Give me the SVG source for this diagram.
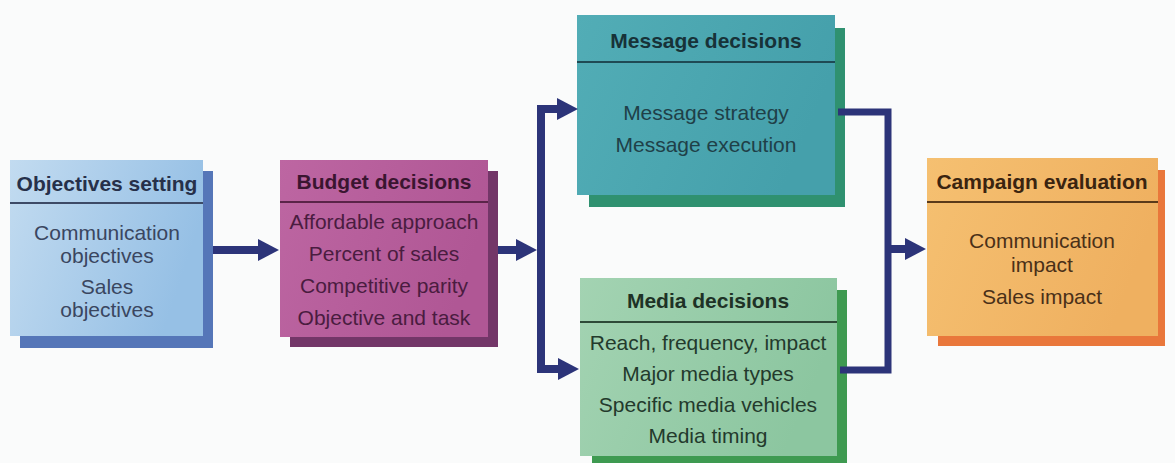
<svg xmlns="http://www.w3.org/2000/svg" width="1175" height="463" viewBox="0 0 1175 463">
  <defs>
    <linearGradient id="gObj" x1="0" y1="0" x2="1" y2="0.3">
      <stop offset="0" stop-color="#c2dbf0"/>
      <stop offset="1" stop-color="#96c0e5"/>
    </linearGradient>
    <linearGradient id="gBud" x1="0" y1="0" x2="1" y2="0.3">
      <stop offset="0" stop-color="#bd66a2"/>
      <stop offset="1" stop-color="#b05795"/>
    </linearGradient>
    <linearGradient id="gMsg" x1="0" y1="0" x2="1" y2="0.3">
      <stop offset="0" stop-color="#52adb6"/>
      <stop offset="1" stop-color="#45a0ab"/>
    </linearGradient>
    <linearGradient id="gMed" x1="0" y1="0" x2="1" y2="0.3">
      <stop offset="0" stop-color="#a3d3b2"/>
      <stop offset="1" stop-color="#8cc6a0"/>
    </linearGradient>
    <linearGradient id="gCam" x1="0" y1="0" x2="1" y2="0.3">
      <stop offset="0" stop-color="#f5c071"/>
      <stop offset="1" stop-color="#efb060"/>
    </linearGradient>
    <marker id="head" markerUnits="userSpaceOnUse" markerWidth="22" markerHeight="24" refX="0" refY="12" orient="auto">
      <path d="M0,1 L21,12 L0,23 Z" fill="#2c3479"/>
    </marker>
    <style>
      .title { font-family: "Liberation Sans", Arial, sans-serif; font-size: 21px; font-weight: bold; text-anchor: middle; }
      .item { font-family: "Liberation Sans", Arial, sans-serif; font-size: 21px; text-anchor: middle; }
      .rule { stroke-width: 2; }
      .link { fill: none; stroke: #2c3479; stroke-width: 8; stroke-linejoin: miter; stroke-linecap: butt; }
    </style>
  </defs>

  <rect width="1175" height="463" fill="#fafbfb"/>

  <!-- Objectives setting -->
  <g id="objectives">
    <rect x="20" y="171" width="193" height="177" fill="#5576b8"/>
    <rect x="10" y="160" width="193" height="176" fill="url(#gObj)"/>
    <line class="rule" x1="10" y1="203" x2="203" y2="203" stroke="#3d4a66"/>
    <text class="title" x="107" y="191" fill="#26304a">Objectives setting</text>
    <g class="item" fill="#3a4660">
      <text x="107" y="240">Communication</text>
      <text x="107" y="263">objectives</text>
      <text x="107" y="294">Sales</text>
      <text x="107" y="317">objectives</text>
    </g>
  </g>

  <!-- Budget decisions -->
  <g id="budget">
    <rect x="290" y="171" width="208" height="176" fill="#733668"/>
    <rect x="280" y="160" width="208" height="177" fill="url(#gBud)"/>
    <line class="rule" x1="280" y1="202" x2="488" y2="202" stroke="#5a2448"/>
    <text class="title" x="384" y="189" fill="#3a1530">Budget decisions</text>
    <g class="item" fill="#4a1c40">
      <text x="384" y="229">Affordable approach</text>
      <text x="384" y="261">Percent of sales</text>
      <text x="384" y="293">Competitive parity</text>
      <text x="384" y="325">Objective and task</text>
    </g>
  </g>

  <!-- Message decisions -->
  <g id="message">
    <rect x="589" y="28" width="256" height="179" fill="#2f9170"/>
    <rect x="577" y="15" width="258" height="180" fill="url(#gMsg)"/>
    <line class="rule" x1="577" y1="62" x2="835" y2="62" stroke="#1f4a54"/>
    <text class="title" x="706" y="48" fill="#173238">Message decisions</text>
    <g class="item" fill="#1f4048">
      <text x="706" y="120">Message strategy</text>
      <text x="706" y="152">Message execution</text>
    </g>
  </g>

  <!-- Media decisions -->
  <g id="media">
    <rect x="592" y="290" width="255" height="180" fill="#3e9a51"/>
    <rect x="580" y="278" width="257" height="178" fill="url(#gMed)"/>
    <line class="rule" x1="580" y1="322" x2="837" y2="322" stroke="#2e4a38"/>
    <text class="title" x="708" y="308" fill="#1e3226">Media decisions</text>
    <g class="item" fill="#233a2c">
      <text x="708" y="350">Reach, frequency, impact</text>
      <text x="708" y="381">Major media types</text>
      <text x="708" y="412">Specific media vehicles</text>
      <text x="708" y="443">Media timing</text>
    </g>
  </g>

  <!-- Campaign evaluation -->
  <g id="campaign">
    <rect x="938" y="170" width="227" height="176" fill="#e9773b"/>
    <rect x="927" y="158" width="231" height="178" fill="url(#gCam)"/>
    <line class="rule" x1="927" y1="202" x2="1158" y2="202" stroke="#5a3a1a"/>
    <text class="title" x="1042" y="189" fill="#3a2410">Campaign evaluation</text>
    <g class="item" fill="#4a3018">
      <text x="1042" y="248">Communication</text>
      <text x="1042" y="272">impact</text>
      <text x="1042" y="304">Sales impact</text>
    </g>
  </g>

  <!-- Flow connectors -->
  <g id="connectors">
    <path class="link" d="M213,250 H258" marker-end="url(#head)"/>
    <path class="link" d="M498,250 H516" marker-end="url(#head)"/>
    <path class="link" d="M541,250 V109 H557" marker-end="url(#head)"/>
    <path class="link" d="M541,250 V369 H558" marker-end="url(#head)"/>
    <path class="link" d="M838,112 H888 V370 H840" style="stroke-width:7"/>
    <path class="link" d="M888,249 H905" marker-end="url(#head)"/>
  </g>
</svg>
